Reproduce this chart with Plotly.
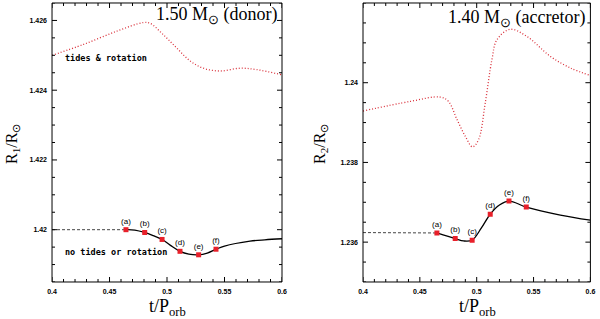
import numpy as np
import plotly.graph_objects as go

# ---------------- data ----------------
# Left panel: donor 1.50 Msun
t_d_nt = [0.40, 0.42, 0.44, 0.46, 0.465, 0.472, 0.4806, 0.488, 0.4957, 0.503, 0.5113,
          0.519, 0.5275, 0.535, 0.5426, 0.55, 0.5722, 0.585, 0.60]
r_d_nt = [1.42, 1.42, 1.42, 1.42, 1.42, 1.41999, 1.41992, 1.41983, 1.41972, 1.41955, 1.41938,
          1.41930, 1.41928, 1.41933, 1.41944, 1.41953, 1.41967, 1.41971, 1.41974]
t_d_tr = [0.40, 0.4272, 0.4562, 0.4794, 0.4852, 0.4968, 0.5084, 0.52, 0.5316, 0.5461,
          0.5635, 0.578, 0.60]
r_d_tr = [1.42500, 1.42531, 1.42569, 1.42594, 1.42592, 1.42559, 1.42521, 1.42484, 1.42463,
          1.42455, 1.42463, 1.42459, 1.42444]
t_d_m = [0.4643, 0.4806, 0.4957, 0.5113, 0.5275, 0.5426]
r_d_m = [1.42, 1.41992, 1.41972, 1.41938, 1.41928, 1.41944]

# Right panel: accretor 1.40 Msun
t_a_nt = [0.40, 0.43, 0.465, 0.4811, 0.4885, 0.496, 0.504, 0.5119, 0.52, 0.5284, 0.5436,
          0.5736, 0.60]
r_a_nt = [1.23624, 1.23624, 1.23623, 1.23609, 1.23603, 1.23605, 1.23635, 1.2367, 1.23693,
          1.23703, 1.23688, 1.23668, 1.23655]
t_a_tr = [0.40, 0.4414, 0.4678, 0.4752, 0.4826, 0.4899, 0.4963, 0.5016, 0.5075, 0.5134,
          0.5178, 0.5295, 0.5442, 0.5648, 0.5824, 0.60]
r_a_tr = [1.23929, 1.23953, 1.23964, 1.23953, 1.23908, 1.23866, 1.23839, 1.23857, 1.23949,
          1.24058, 1.24108, 1.24134, 1.24116, 1.24066, 1.24037, 1.24018]
t_a_m = [0.465, 0.4811, 0.496, 0.5119, 0.5284, 0.5436]
r_a_m = [1.23623, 1.23609, 1.23605, 1.2367, 1.23703, 1.23688]

marker_labels = ["(a)", "(b)", "(c)", "(d)", "(e)", "(f)"]
x_ticks = [0.4, 0.45, 0.5, 0.55, 0.6]
x_ticklabels = ["0.4", "0.45", "0.5", "0.55", "0.6"]
yl_ticks = [1.42, 1.422, 1.424, 1.426]
yl_ticklabels = ["1.42", "1.422", "1.424", "1.426"]
yr_ticks = [1.236, 1.238, 1.24]
yr_ticklabels = ["1.236", "1.238", "1.24"]

X_RANGE = [0.4, 0.6]
YL_RANGE = [1.4185, 1.4265]
YR_RANGE = [1.235, 1.242]
X_MINOR_STEP = 0.01
Y_MINOR_STEP = 0.0005

T_SPLIT = 0.465

W, H = 600, 319
xdom_l = [0.0867, 0.47]
xdom_r = [0.605, 0.984]
ydom = [0.116, 0.9906]

fig = go.Figure()

RED = "#e8202a"
DOT = "#d9303a"


def add_panel(t_nt, r_nt, t_tr, r_tr, t_m, r_m, xa, ya):
    tdash = [t for t in t_nt if t <= T_SPLIT]
    rdash = [r for t, r in zip(t_nt, r_nt) if t <= T_SPLIT]
    tsol = [t for t in t_nt if t >= T_SPLIT]
    rsol = [r for t, r in zip(t_nt, r_nt) if t >= T_SPLIT]
    fig.add_trace(go.Scatter(x=tdash, y=rdash, mode="lines", xaxis=xa, yaxis=ya,
                             line=dict(color="#444444", width=1, dash="3px,2px"),
                             showlegend=False, hoverinfo="skip"))
    fig.add_trace(go.Scatter(x=tsol, y=rsol, mode="lines", xaxis=xa, yaxis=ya,
                             line=dict(color="black", width=1.3, shape="spline"),
                             showlegend=False, hoverinfo="skip"))
    fig.add_trace(go.Scatter(x=t_tr, y=r_tr, mode="lines", xaxis=xa, yaxis=ya,
                             line=dict(color=DOT, width=1.3, dash="1px,2px", shape="spline"),
                             showlegend=False, hoverinfo="skip"))
    fig.add_trace(go.Scatter(x=t_m, y=r_m, mode="markers+text", xaxis=xa, yaxis=ya,
                             marker=dict(color=RED, size=5, symbol="square"),
                             text=marker_labels, textposition="top center",
                             textfont=dict(family="Liberation Sans", size=8, color="black"),
                             showlegend=False, hoverinfo="skip"))


add_panel(t_d_nt, r_d_nt, t_d_tr, r_d_tr, t_d_m, r_d_m, "x", "y")
add_panel(t_a_nt, r_a_nt, t_a_tr, r_a_tr, t_a_m, r_a_m, "x2", "y2")


# ---- inside tick marks on all four sides (axis decoration, from tick spacing) ----
def tick_positions(lo, hi, step):
    start = np.ceil(lo / step - 1e-6)
    stop = np.floor(hi / step + 1e-6)
    return [k * step for k in np.arange(start, stop + 1)]


def add_ticks(xa, ya, xdom, yrange, yticks):
    px_w = (xdom[1] - xdom[0]) * W
    px_h = (ydom[1] - ydom[0]) * H
    dx_per_px = (X_RANGE[1] - X_RANGE[0]) / px_w
    dy_per_px = (yrange[1] - yrange[0]) / px_h
    xs, ys = [], []
    for v in tick_positions(X_RANGE[0], X_RANGE[1], X_MINOR_STEP):
        L = 5 if any(abs(v - m) < 1e-9 for m in x_ticks) else 3
        xs += [v, v, None, v, v, None]
        ys += [yrange[0], yrange[0] + L * dy_per_px, None,
               yrange[1], yrange[1] - L * dy_per_px, None]
    for v in tick_positions(yrange[0], yrange[1], Y_MINOR_STEP):
        L = 5 if any(abs(v - m) < 1e-9 for m in yticks) else 3
        xs += [X_RANGE[0], X_RANGE[0] + L * dx_per_px, None,
               X_RANGE[1], X_RANGE[1] - L * dx_per_px, None]
        ys += [v, v, None, v, v, None]
    fig.add_trace(go.Scatter(x=xs, y=ys, mode="lines", xaxis=xa, yaxis=ya,
                             line=dict(color="black", width=1), connectgaps=False,
                             showlegend=False, hoverinfo="skip"))


add_ticks("x", "y", xdom_l, YL_RANGE, yl_ticks)
add_ticks("x2", "y2", xdom_r, YR_RANGE, yr_ticks)

tickfont = dict(family="Liberation Sans", size=7, color="black", weight="bold")
axstyle = dict(showgrid=False, zeroline=False, showline=False, ticks="", tickfont=tickfont,
               ticklabelstandoff=4)

fig.update_layout(
    width=W, height=H,
    margin=dict(l=0, r=0, t=0, b=0, autoexpand=False),
    paper_bgcolor="white", plot_bgcolor="white",
    xaxis=dict(domain=xdom_l, range=X_RANGE, anchor="y", tickvals=x_ticks,
               ticktext=x_ticklabels, **axstyle),
    yaxis=dict(domain=ydom, range=YL_RANGE, anchor="x", tickvals=yl_ticks,
               ticktext=yl_ticklabels, **axstyle),
    xaxis2=dict(domain=xdom_r, range=X_RANGE, anchor="y2", tickvals=x_ticks,
                ticktext=x_ticklabels, **axstyle),
    yaxis2=dict(domain=ydom, range=YR_RANGE, anchor="x2", tickvals=yr_ticks,
                ticktext=yr_ticklabels, **axstyle),
)

# frame around each panel
for xr, yr in [("x", "y"), ("x2", "y2")]:
    fig.add_shape(type="rect", xref=f"{xr} domain", yref=f"{yr} domain",
                  x0=0, x1=1, y0=0, y1=1, line=dict(color="black", width=1),
                  fillcolor="rgba(0,0,0,0)", layer="above")

serif = "Liberation Serif"
ann = []
# axis titles (pixel positions, converted below)
ann.append(dict(text="R<sub>1</sub>/R<sub>⊙</sub>", x=12, y=144, textangle=-90,
                font=dict(family=serif, size=16, color="black")))
ann.append(dict(text="R<sub>2</sub>/R<sub>⊙</sub>", x=320, y=144, textangle=-90,
                font=dict(family=serif, size=16, color="black")))
ann.append(dict(text="t/P<sub>orb</sub>", x=167, y=307,
                font=dict(family=serif, size=18, color="black")))
ann.append(dict(text="t/P<sub>orb</sub>", x=477, y=307,
                font=dict(family=serif, size=18, color="black")))
for a in ann:
    a["xref"] = "paper"
    a["yref"] = "paper"
    a["xanchor"] = "center"
    a["yanchor"] = "middle"
    a["showarrow"] = False
    a["x"] = a["x"] / W
    a["y"] = 1 - a["y"] / H

# panel titles and curve labels (data coordinates)
ann.append(dict(text="1.50 M<sub>⊙</sub> (donor)", x=0.598, y=1.42613, xref="x", yref="y",
                xanchor="right", yanchor="middle", showarrow=False,
                font=dict(family=serif, size=18, color="black")))
ann.append(dict(text="1.40 M<sub>⊙</sub> (accretor)", x=0.597, y=1.2416, xref="x2", yref="y2",
                xanchor="right", yanchor="middle", showarrow=False,
                font=dict(family=serif, size=18, color="black")))
ann.append(dict(text="<b>tides &amp; rotation</b>", x=0.4095, y=1.42491, xref="x", yref="y",
                xanchor="left", yanchor="middle", showarrow=False,
                font=dict(family="DejaVu Sans Mono", size=8.5, color="black")))
ann.append(dict(text="<b>no tides or rotation</b>", x=0.4095, y=1.41937, xref="x", yref="y",
                xanchor="left", yanchor="middle", showarrow=False,
                font=dict(family="DejaVu Sans Mono", size=8.5, color="black")))

fig.update_layout(annotations=ann)

fig.write_html("out.html", config={"displayModeBar": False},
               post_script="document.body.style.margin='0px';")
